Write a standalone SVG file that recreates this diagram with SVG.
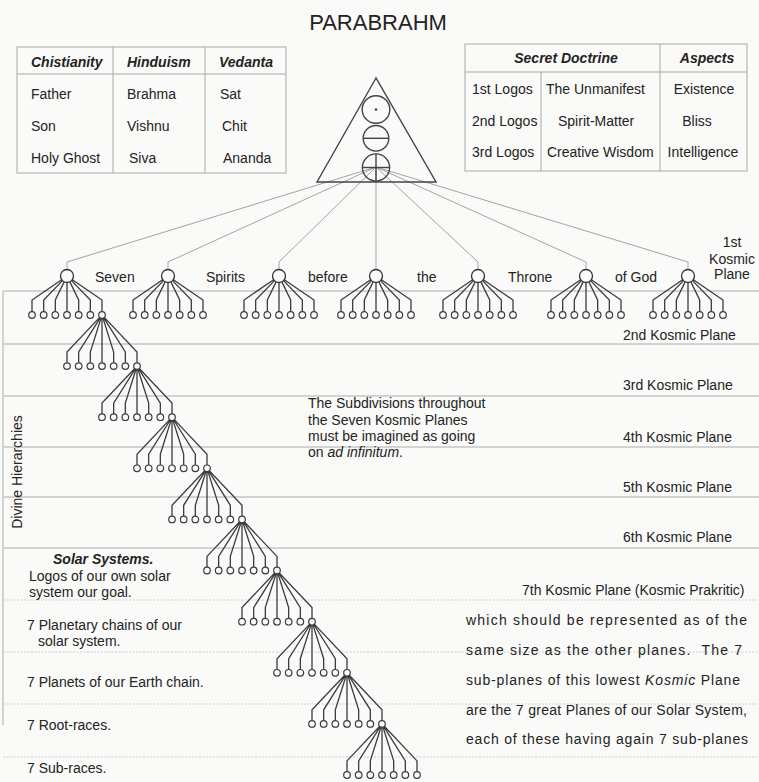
<svg xmlns="http://www.w3.org/2000/svg" xmlns:xlink="http://www.w3.org/1999/xlink" width="759" height="782" viewBox="0 0 759 782">
<style>
.t { font-family: "Liberation Sans", Arial, sans-serif; font-size: 14px; fill: #232323; }
.h { font-weight: bold; font-style: italic; }
.it { font-style: italic; }
.ttl { font-size: 22px; }
.tbl { fill: none; stroke: #a8a8a8; stroke-width: 1; }
.plane { stroke: #c6c6c6; stroke-width: 1.5; }
.plane2 { stroke: #cccccc; stroke-width: 1; stroke-dasharray: 2 1.5; }
.conn { fill: none; stroke: #9a9a9a; stroke-width: 0.9; }
.br { fill: none; stroke: #3c3c3c; stroke-width: 1.3; }
.root { fill: #fafaf8; stroke: #333; stroke-width: 1.3; }
.kid { fill: #fafaf8; stroke: #3c3c3c; stroke-width: 1.2; }
.sym { fill: none; stroke: #444; stroke-width: 1.4; }
</style>
<defs>
<path id="fanTop" class="br" d="M-5.36,3.68 L-35,24 V35.7 M-4.53,4.66 L-23.33,24 V35.7 M-2.84,5.85 L-11.67,24 V35.7 M0,6.5 V35.7 M2.84,5.85 L11.67,24 V35.7 M4.53,4.66 L23.33,24 V35.7 M5.36,3.68 L35,24 V35.7"/>
<path id="fanSmall" class="br" d="M-2.27,2.4 L-35,37 V47.8 M-1.76,2.79 L-23.33,37 V47.8 M-0.99,3.15 L-11.67,37 V47.8 M0,3.3 V47.8 M0.99,3.15 L11.67,37 V47.8 M1.76,2.79 L23.33,37 V47.8 M2.27,2.4 L35,37 V47.8"/>
<g id="kidsTop" class="kid">
<circle cx="-35" cy="39" r="3.3"/><circle cx="-23.33" cy="39" r="3.3"/><circle cx="-11.67" cy="39" r="3.3"/><circle cx="0" cy="39" r="3.3"/><circle cx="11.67" cy="39" r="3.3"/><circle cx="23.33" cy="39" r="3.3"/><circle cx="35" cy="39" r="3.3"/>
</g>
<g id="kidsSmall" class="kid">
<circle cx="-35" cy="51.1" r="3.3"/><circle cx="-23.33" cy="51.1" r="3.3"/><circle cx="-11.67" cy="51.1" r="3.3"/><circle cx="0" cy="51.1" r="3.3"/><circle cx="11.67" cy="51.1" r="3.3"/><circle cx="23.33" cy="51.1" r="3.3"/><circle cx="35" cy="51.1" r="3.3"/>
</g>
</defs>
<rect x="0" y="0" width="759" height="782" fill="#fafaf8"/>

<g id="planes">
<line class="plane" x1="3" y1="291" x2="759" y2="291"/>
<line class="plane" x1="3" y1="344" x2="759" y2="344"/>
<line class="plane" x1="3" y1="396" x2="759" y2="396"/>
<line class="plane" x1="3" y1="447" x2="759" y2="447"/>
<line class="plane" x1="3" y1="497" x2="759" y2="497"/>
<line class="plane" x1="3" y1="548" x2="759" y2="548"/>
<line class="plane2" x1="3" y1="600" x2="759" y2="600"/>
<line class="plane2" x1="3" y1="652" x2="759" y2="652"/>
<line class="plane2" x1="3" y1="704" x2="759" y2="704"/>
<line class="plane2" x1="3" y1="757" x2="759" y2="757"/>
<line class="plane" x1="3" y1="291" x2="3" y2="725"/>
</g>

<g id="title"><text class="t ttl" x="378" y="30" text-anchor="middle">PARABRAHM</text></g>

<g id="table-left">
<rect class="tbl" x="17" y="47" width="269" height="126"/>
<line class="tbl" x1="17" y1="74" x2="286" y2="74"/>
<line class="tbl" x1="113" y1="47" x2="113" y2="173"/>
<line class="tbl" x1="205" y1="47" x2="205" y2="173"/>
<text class="t h" x="31" y="67">Chistianity</text>
<text class="t h" x="127" y="67">Hinduism</text>
<text class="t h" x="219" y="67">Vedanta</text>
<text class="t" x="31" y="99">Father</text>
<text class="t" x="31" y="131">Son</text>
<text class="t" x="31" y="163">Holy Ghost</text>
<text class="t" x="127" y="99">Brahma</text>
<text class="t" x="127" y="131">Vishnu</text>
<text class="t" x="129" y="163">Siva</text>
<text class="t" x="220" y="99">Sat</text>
<text class="t" x="222" y="131">Chit</text>
<text class="t" x="223" y="163">Ananda</text>
</g>

<g id="table-right">
<rect class="tbl" x="465" y="44" width="282" height="127"/>
<line class="tbl" x1="465" y1="72" x2="747" y2="72"/>
<line class="tbl" x1="660" y1="44" x2="660" y2="171"/>
<line class="tbl" x1="541" y1="72" x2="541" y2="171"/>
<text class="t h" x="566" y="63" text-anchor="middle">Secret Doctrine</text>
<text class="t h" x="707" y="63" text-anchor="middle">Aspects</text>
<text class="t" x="472" y="94">1st Logos</text>
<text class="t" x="472" y="126">2nd Logos</text>
<text class="t" x="472" y="157">3rd Logos</text>
<text class="t" x="546" y="94">The Unmanifest</text>
<text class="t" x="558" y="126">Spirit-Matter</text>
<text class="t" x="547" y="157">Creative Wisdom</text>
<text class="t" x="704" y="94" text-anchor="middle">Existence</text>
<text class="t" x="697" y="126" text-anchor="middle">Bliss</text>
<text class="t" x="703" y="157" text-anchor="middle">Intelligence</text>
</g>

<g id="connectors">
<path class="conn" d="M376,167 L67,262 V269.5"/>
<path class="conn" d="M376,167 L168,262 V269.5"/>
<path class="conn" d="M376,167 L279,262 V269.5"/>
<path class="conn" d="M376,167 V269.5"/>
<path class="conn" d="M376,167 L478,262 V269.5"/>
<path class="conn" d="M376,167 L586,262 V269.5"/>
<path class="conn" d="M376,167 L688,262 V269.5"/>
<use href="#fanTop" x="67" y="276"/>
<use href="#fanTop" x="168" y="276"/>
<use href="#fanTop" x="279" y="276"/>
<use href="#fanTop" x="376" y="276"/>
<use href="#fanTop" x="478" y="276"/>
<use href="#fanTop" x="586" y="276"/>
<use href="#fanTop" x="688" y="276"/>
<use href="#fanSmall" x="102" y="315"/>
<use href="#fanSmall" x="137" y="366.1"/>
<use href="#fanSmall" x="172" y="417.2"/>
<use href="#fanSmall" x="207" y="468.3"/>
<use href="#fanSmall" x="242" y="519.4"/>
<use href="#fanSmall" x="277" y="570.6"/>
<use href="#fanSmall" x="312" y="621.7"/>
<use href="#fanSmall" x="347" y="672.8"/>
<use href="#fanSmall" x="382" y="723.9"/>
</g>

<g id="parabrahm-symbol" class="sym">
<polygon points="376,78 317,182 436,182"/>
<circle cx="376" cy="109.5" r="13.8"/>
<circle cx="376" cy="109.5" r="1.2" fill="#333" stroke="none"/>
<circle cx="376" cy="138.3" r="12.8"/>
<line x1="363.2" y1="138.3" x2="388.8" y2="138.3"/>
<circle cx="376" cy="167.5" r="13.6"/>
<line x1="362.4" y1="167.5" x2="389.6" y2="167.5"/>
<line x1="376" y1="153.9" x2="376" y2="181.1"/>
</g>

<g id="spirit-1"><circle class="root" cx="67" cy="276" r="6.5"/><use href="#kidsTop" x="67" y="276"/></g>
<g id="spirit-2"><circle class="root" cx="168" cy="276" r="6.5"/><use href="#kidsTop" x="168" y="276"/></g>
<g id="spirit-3"><circle class="root" cx="279" cy="276" r="6.5"/><use href="#kidsTop" x="279" y="276"/></g>
<g id="spirit-4"><circle class="root" cx="376" cy="276" r="6.5"/><use href="#kidsTop" x="376" y="276"/></g>
<g id="spirit-5"><circle class="root" cx="478" cy="276" r="6.5"/><use href="#kidsTop" x="478" y="276"/></g>
<g id="spirit-6"><circle class="root" cx="586" cy="276" r="6.5"/><use href="#kidsTop" x="586" y="276"/></g>
<g id="spirit-7"><circle class="root" cx="688" cy="276" r="6.5"/><use href="#kidsTop" x="688" y="276"/></g>

<g id="plane-2-nodes"><use href="#kidsSmall" x="102" y="315"/></g>
<g id="plane-3-nodes"><use href="#kidsSmall" x="137" y="366.1"/></g>
<g id="plane-4-nodes"><use href="#kidsSmall" x="172" y="417.2"/></g>
<g id="plane-5-nodes"><use href="#kidsSmall" x="207" y="468.3"/></g>
<g id="plane-6-nodes"><use href="#kidsSmall" x="242" y="519.4"/></g>
<g id="solar-nodes"><use href="#kidsSmall" x="277" y="570.6"/></g>
<g id="chain-nodes"><use href="#kidsSmall" x="312" y="621.7"/></g>
<g id="planet-nodes"><use href="#kidsSmall" x="347" y="672.8"/></g>
<g id="race-nodes"><use href="#kidsSmall" x="382" y="723.9"/></g>

<g id="labels">
<text class="t" x="95" y="282">Seven</text>
<text class="t" x="206" y="282">Spirits</text>
<text class="t" x="308" y="282">before</text>
<text class="t" x="417" y="282">the</text>
<text class="t" x="508" y="282">Throne</text>
<text class="t" x="615" y="282">of God</text>
<text class="t" x="732" y="247" text-anchor="middle">1st</text>
<text class="t" x="732" y="264" text-anchor="middle">Kosmic</text>
<text class="t" x="732" y="279" text-anchor="middle">Plane</text>
<text class="t" x="623" y="340">2nd Kosmic Plane</text>
<text class="t" x="623" y="390">3rd Kosmic Plane</text>
<text class="t" x="623" y="442">4th Kosmic Plane</text>
<text class="t" x="623" y="492">5th Kosmic Plane</text>
<text class="t" x="623" y="542">6th Kosmic Plane</text>
<text class="t" x="522" y="595">7th Kosmic Plane (Kosmic Prakritic)</text>
<text class="t" x="308" y="408">The Subdivisions throughout</text>
<text class="t" x="308" y="424.5">the Seven Kosmic Planes</text>
<text class="t" x="308" y="441">must be imagined as going</text>
<text class="t" x="308" y="457">on <tspan class="it">ad infinitum</tspan>.</text>
<text class="t" transform="translate(21.5,472) rotate(-90)" text-anchor="middle">Divine Hierarchies</text>
<text class="t h" x="53" y="564">Solar Systems.</text>
<text class="t" x="29" y="581">Logos of our own solar</text>
<text class="t" x="29" y="597">system our goal.</text>
<text class="t" x="27" y="630">7 Planetary chains of our</text>
<text class="t" x="38" y="646">solar system.</text>
<text class="t" x="27" y="687">7 Planets of our Earth chain.</text>
<text class="t" x="27" y="730">7 Root-races.</text>
<text class="t" x="27" y="773">7 Sub-races.</text>
<text class="t" x="466" y="625" textLength="281" lengthAdjust="spacing">which should be represented as of the</text>
<text class="t" x="466" y="655" textLength="276" lengthAdjust="spacing" xml:space="preserve">same size as the other planes.  The 7</text>
<text class="t" x="466" y="685" textLength="274" lengthAdjust="spacing">sub-planes of this lowest <tspan class="it">Kosmic</tspan> Plane</text>
<text class="t" x="466" y="715" textLength="281" lengthAdjust="spacing">are the 7 great Planes of our Solar System,</text>
<text class="t" x="466" y="744" textLength="282" lengthAdjust="spacing">each of these having again 7 sub-planes</text>
</g>
</svg>
